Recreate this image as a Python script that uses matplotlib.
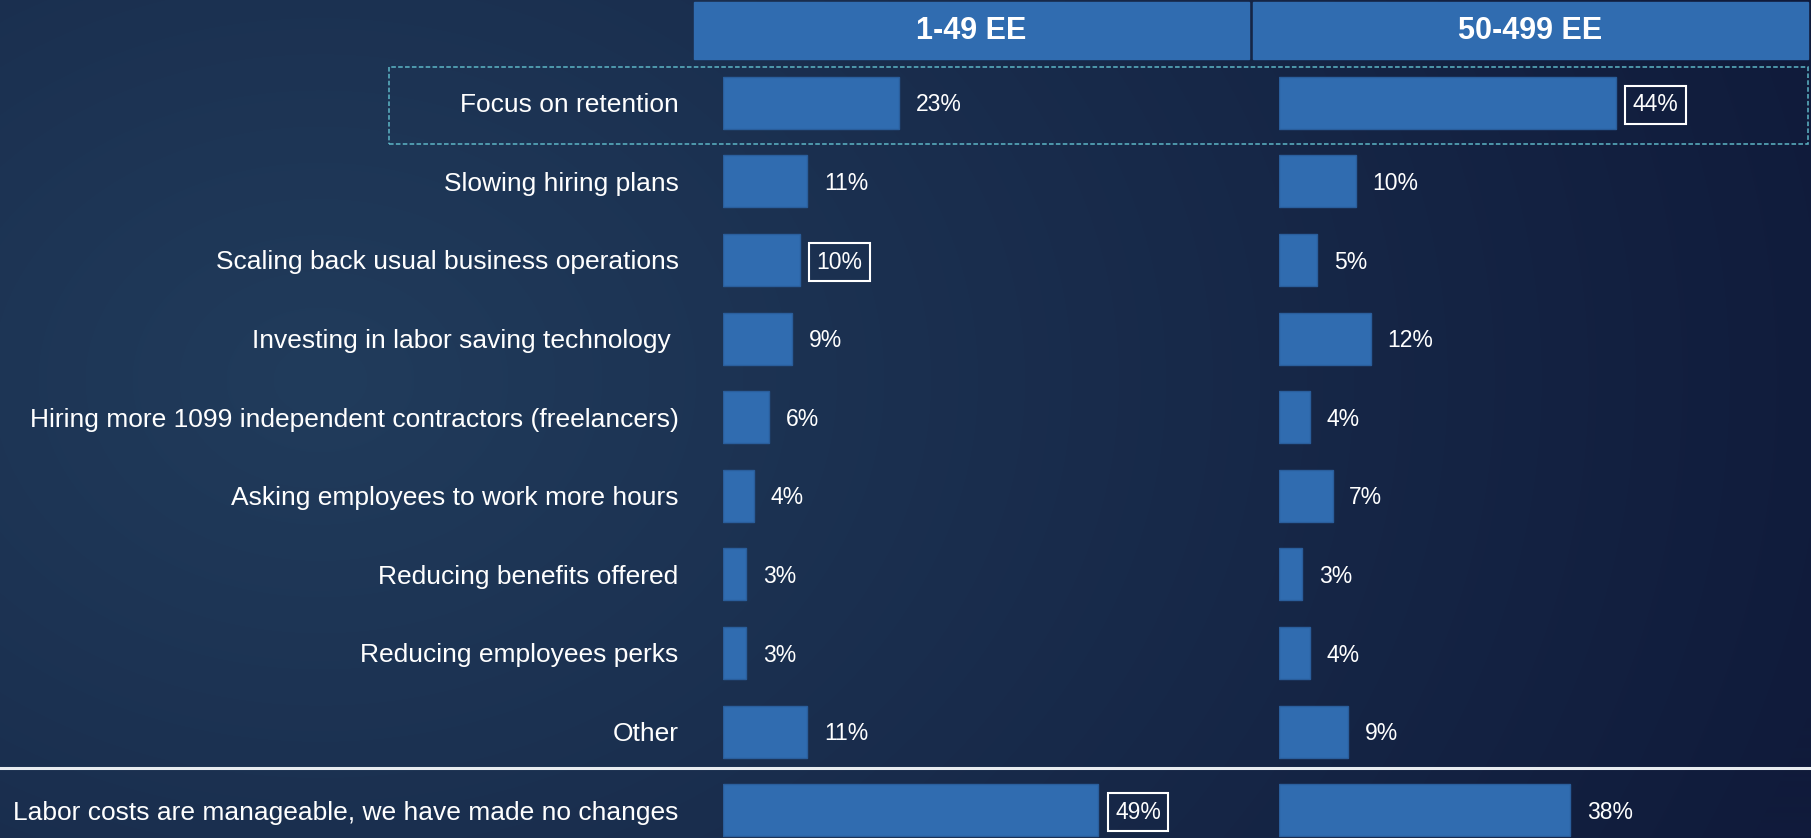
import numpy as np
import matplotlib
matplotlib.use("Agg")
import matplotlib.pyplot as plt
from matplotlib.patches import Rectangle
from matplotlib.colors import to_rgb

plt.rcParams['font.family'] = ['Liberation Sans', 'DejaVu Sans']

categories = [
    "Focus on retention",
    "Slowing hiring plans",
    "Scaling back usual business operations",
    "Investing in labor saving technology ",
    "Hiring more 1099 independent contractors (freelancers)",
    "Asking employees to work more hours",
    "Reducing benefits offered",
    "Reducing employees perks",
    "Other",
    "Labor costs are manageable, we have made no changes",
]
small_biz = [23, 11, 10, 9, 6, 4, 3, 3, 11, 49]   # 1-49 EE
mid_biz = [44, 10, 5, 12, 4, 7, 3, 4, 9, 38]      # 50-499 EE
headers = ["1-49 EE", "50-499 EE"]
boxed_small = [2, 9]
boxed_mid = [0]

W, H = 1811, 838
BAR = "#306cb0"
fig = plt.figure(figsize=(W / 100, H / 100), dpi=100)

# background: soft radial gradient, lighter to the left
bg = fig.add_axes([0, 0, 1, 1], zorder=0)
yy, xx = np.mgrid[0:H, 0:W]
d = np.hypot(xx - 320, (yy - 380) * 1.3)
t = np.clip(d / 1550, 0, 1)[..., None]
c0 = np.array(to_rgb("#213c5c"))
c1 = np.array(to_rgb("#101b3b"))
bg.imshow(c0 * (1 - t) + c1 * t, aspect="auto", extent=(0, W, H, 0))
bg.set_xlim(0, W)
bg.set_ylim(H, 0)
bg.axis("off")


def fx(px):
    return px / W


def fy(py):
    return 1 - py / H


px_per_pct = 7.66
row0, row_step = 102.8, 78.6
y_top = -row0 / row_step
y_bot = (H - row0) / row_step
pos = np.arange(len(categories))


def panel(x0, values, boxed, show_labels):
    ax = fig.add_axes([fx(x0), 0, 60 * px_per_pct / W, 1], zorder=2)
    ax.patch.set_alpha(0)
    ax.barh(pos, values, height=0.66, color=BAR, edgecolor="#2a5e9c", linewidth=1)
    ax.set_xlim(0, 60)
    ax.set_ylim(y_bot, y_top)
    for i, v in enumerate(values):
        box = None
        if i in boxed:
            box = dict(boxstyle="square,pad=0.32", fc="none", ec="white", lw=1.5)
        ax.annotate(f"{v}%", (v, i), xytext=(12, -1.5), textcoords="offset points",
                    ha="left", va="center", color="white", fontsize=16.5,
                    bbox=box, annotation_clip=False)
    for s in ax.spines.values():
        s.set_visible(False)
    ax.set_xticks([])
    ax.set_yticks(pos)
    if show_labels:
        ax.set_yticklabels(categories, color="white", fontsize=19)
        ax.tick_params(axis="y", length=0, pad=32)
    else:
        ax.set_yticklabels([])
        ax.tick_params(axis="y", length=0)
    return ax


panel(723, small_biz, boxed_small, True)
panel(1279, mid_biz, boxed_mid, False)

# column headers
for (a, b), name in zip([(694, 1249), (1253, 1808)], headers):
    fig.patches.append(Rectangle((fx(a), fy(59)), fx(b - a), 57 / H,
                                 transform=fig.transFigure, color=BAR, zorder=1))
    fig.text(fx((a + b) / 2), fy(31), name, ha="center", va="center",
             color="white", fontsize=22, fontweight="bold", zorder=3)

# highlight frame around the first row
fig.patches.append(Rectangle((fx(389), fy(144)), fx(1808 - 389), 77 / H,
                             transform=fig.transFigure, fill=False,
                             ec="#5db6c6", lw=1.1, ls=(0, (3, 1.5)), zorder=1))

# separator before the last row
fig.lines.append(plt.Line2D([0, 1], [fy(768), fy(768)], transform=fig.transFigure,
                            color="#e8ecf0", lw=2.2, zorder=1))

fig.savefig("out.png", dpi=100)
